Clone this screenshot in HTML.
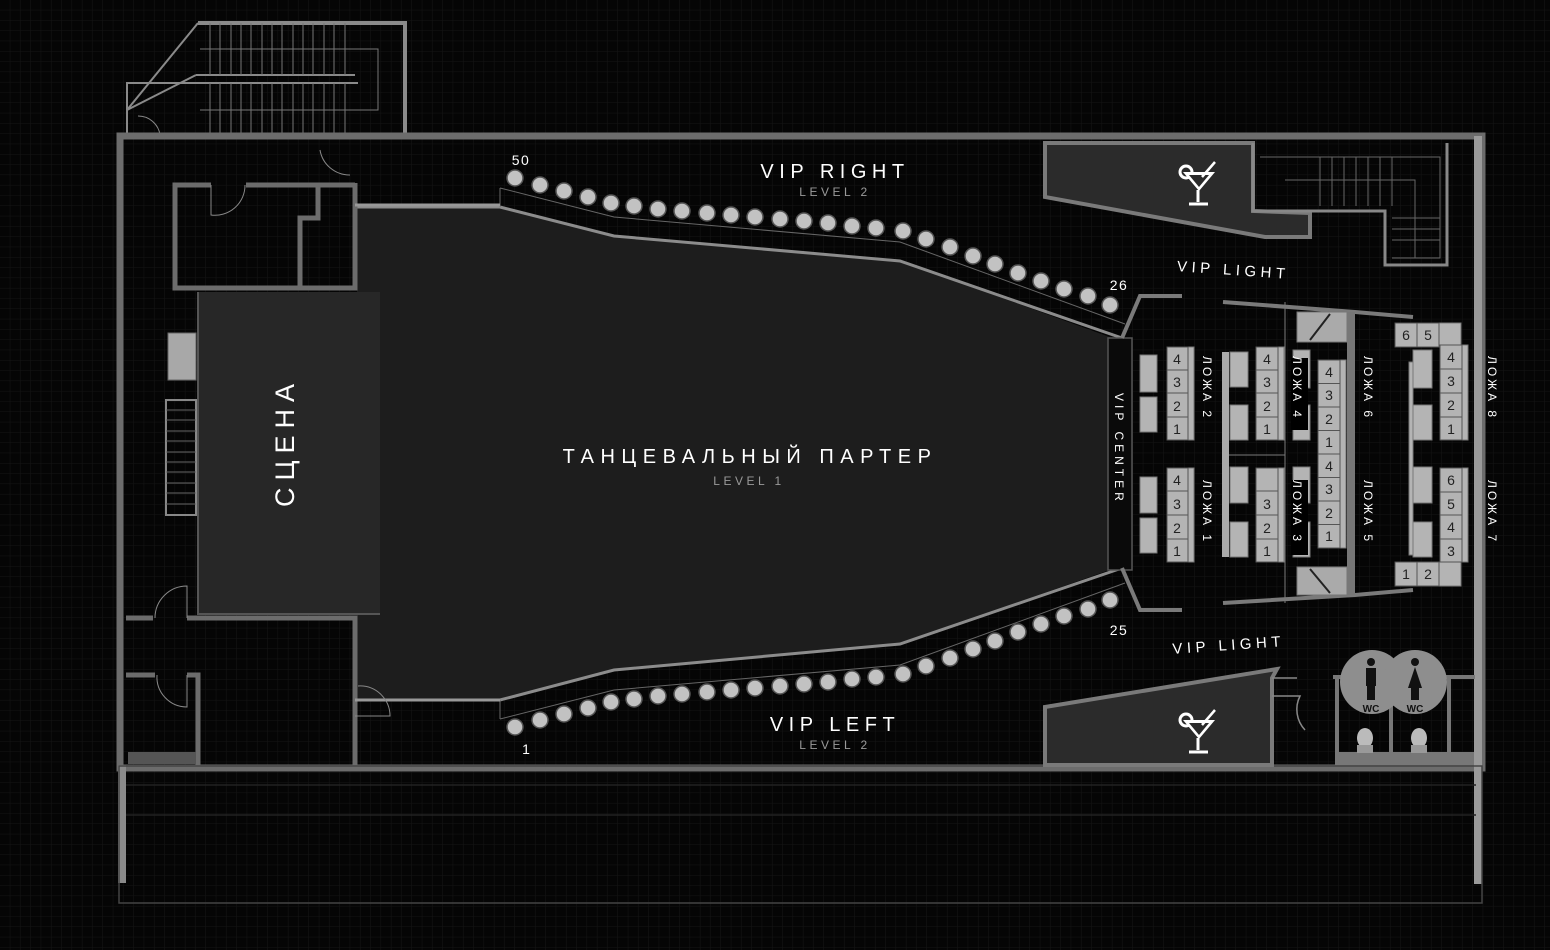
<!DOCTYPE html>
<html><head><meta charset="utf-8"><style>
html,body{margin:0;padding:0;background:#050505;}
svg{display:block}
text{font-family:"Liberation Sans","DejaVu Sans",sans-serif;fill:#fff}
</style></head><body>
<svg width="1550" height="950" viewBox="0 0 1550 950" xmlns="http://www.w3.org/2000/svg">
<defs>
<pattern id="g" width="10.3" height="10.3" patternUnits="userSpaceOnUse">
<path d="M10.3 0V10.3H0" fill="none" stroke="#151515" stroke-width="1"/>
</pattern>
<g id="cock">
<circle cx="-13" cy="-8" r="6" fill="none" stroke="#fff" stroke-width="3"/>
<path d="M-16 -8H16L0 11Z" fill="#fff"/>
<path d="M-10 -5H10L0 7Z" fill="#2a2a2a"/>
<path d="M-1 10V22M-10 24H9" stroke="#fff" stroke-width="3"/>
<path d="M3 -3L16 -18" stroke="#fff" stroke-width="2.5"/>
</g>
</defs>
<rect width="1550" height="950" fill="#050505"/>
<rect width="1550" height="950" fill="url(#g)"/>

<!-- top stairs -->
<g fill="none" stroke="#8a8a8a" stroke-width="2">
<path d="M198 23H405V135" stroke-width="4"/>
<path d="M127 135V83H358M196 75H355"/>
<path d="M127 110L198 23M127 110L196 75"/>
<g stroke-width="1" stroke="#777">
<path d="M210 23V75M220 23V75M231 23V75M241 23V75M251 23V75M262 23V75M272 23V75M282 23V75M293 23V75M303 23V75M313 23V75M324 23V75M334 23V75M345 23V75"/>
<path d="M210 83V135M220 83V135M231 83V135M241 83V135M251 83V135M262 83V135M272 83V135M282 83V135M293 83V135M303 83V135M313 83V135M324 83V135M334 83V135M345 83V135"/>
<path d="M200 49H378V110H200"/>
</g>
</g>
<path d="M138 116A22 22 0 0 1 160 135" fill="none" stroke="#888" stroke-width="1"/>

<!-- outer walls -->
<rect x="120" y="136" width="1362" height="632" fill="none" stroke="#6c6c6c" stroke-width="7"/>
<rect x="1474" y="136" width="8" height="748" fill="#9a9a9a"/>
<rect x="118" y="765" width="8" height="118" fill="#8a8a8a"/>
<rect x="119" y="766" width="1363" height="137" fill="none" stroke="#444" stroke-width="1.5"/>
<path d="M126 785H1476M126 815H1476" stroke="#222" stroke-width="1.5"/>

<!-- dance floor -->
<polygon points="357,207 500,207 614,236 900,261 1118,340 1118,567 900,644 614,670 500,700 357,700" fill="#1d1d1d"/>
<path d="M357 207H500L614 236L900 261L1122 338M357 700H500L614 670L900 644L1122 568" fill="none" stroke="#8c8c8c" stroke-width="3"/>
<path d="M500 188L614 217L900 242L1125 324M500 719L614 690L900 665L1125 583" fill="none" stroke="#666" stroke-width="1"/>
<path d="M500 188V207M500 700V719" stroke="#666"/>
<rect x="1108" y="338" width="24" height="232" fill="#0a0a0a" stroke="#555" stroke-width="1.5"/>
<path d="M1122 338L1140 296H1182M1122 568L1140 610H1182" fill="none" stroke="#7a7a7a" stroke-width="4"/>

<!-- stage -->
<rect x="198" y="292" width="182" height="322" fill="#272727"/>
<path d="M198 292V614H380" fill="none" stroke="#555" stroke-width="2"/>

<!-- left rooms -->
<g fill="none" stroke="#6c6c6c" stroke-width="5">
<path d="M211 185H175V288H355V183M246 185H355"/>
<path d="M318 185V218H300V288"/>
<path d="M126 618H153M187 618H355V765"/>
<path d="M126 675H155M187 675H198V765"/>
<path d="M355 618V716M355 745V765"/>
<path d="M355 205H500" stroke-width="3" stroke="#999"/>
<path d="M355 700H500" stroke-width="3" stroke="#999"/>
</g>
<g fill="none" stroke="#888" stroke-width="1">
<path d="M211 185V215A30 30 0 0 0 245 185"/>
<path d="M187 618V586A32 32 0 0 0 155 618"/>
<path d="M157 675A30 30 0 0 0 187 707V675"/>
<path d="M355 716H390A30 30 0 0 0 358 686"/>
<path d="M320 150A30 30 0 0 0 350 175"/>
</g>
<rect x="128" y="752" width="68" height="12" fill="#555"/>
<rect x="168" y="333" width="28" height="47" fill="#a8a8a8" stroke="#666"/>
<rect x="166" y="400" width="30" height="115" fill="none" stroke="#888" stroke-width="2"/>
<path d="M166 410H196M166 420H196M166 431H196M166 441H196M166 452H196M166 462H196M166 472H196M166 483H196M166 493H196M166 504H196" stroke="#666" stroke-width="1"/>

<!-- top bar -->
<polygon points="1045,143 1253,143 1253,211 1310,213 1310,237 1265,237 1045,197" fill="#2b2b2b" stroke="#7a7a7a" stroke-width="4"/>
<g fill="none" stroke="#888" stroke-width="3">
<path d="M1253 143V211H1385V265H1447V143"/>
</g>
<g fill="none" stroke="#666" stroke-width="1">
<path d="M1260 157H1440V258H1392M1285 180H1415V258M1320 157V206M1332 157V206M1344 157V206M1356 157V206M1368 157V206M1380 157V206M1392 157V206"/>
<path d="M1392 218H1440M1392 229H1440M1392 240H1440"/>
</g>
<use href="#cock" x="1199" y="180"/>

<!-- bottom bar -->
<polygon points="1045,707 1277,669 1272,678 1272,765 1045,765" fill="#2b2b2b" stroke="#7a7a7a" stroke-width="4"/>
<use href="#cock" x="1199" y="728"/>
<path d="M1272 678H1297M1272 696H1300A30 30 0 0 0 1305 730" fill="none" stroke="#888" stroke-width="1.5"/>
<!-- WC -->
<g fill="none" stroke="#777" stroke-width="4">
<path d="M1337 677V765M1391 700V755M1449 677V765M1333 677H1345M1445 677H1475"/>
</g>
<rect x="1337" y="752" width="137" height="13" fill="#777"/>
<circle cx="1372" cy="682" r="32" fill="#8e8e8e"/>
<circle cx="1415" cy="682" r="32" fill="#8e8e8e"/>
<g fill="#111">
<circle cx="1371" cy="662" r="4"/><rect x="1366" y="668" width="10" height="18"/><rect x="1367" y="686" width="8" height="14"/>
<circle cx="1415" cy="662" r="4"/><polygon points="1415,667 1408,688 1422,688"/><rect x="1411" y="688" width="8" height="12"/>
</g>
<text x="1371" y="712" font-size="10" font-weight="bold" text-anchor="middle" style="fill:#111">WC</text>
<text x="1415" y="712" font-size="10" font-weight="bold" text-anchor="middle" style="fill:#111">WC</text>
<ellipse cx="1365" cy="738" rx="8" ry="10" fill="#bbb"/><rect x="1357" y="745" width="16" height="8" fill="#999"/>
<ellipse cx="1419" cy="738" rx="8" ry="10" fill="#bbb"/><rect x="1411" y="745" width="16" height="8" fill="#999"/>

<!-- seats -->
<g fill="#c2c2c2" stroke="#555" stroke-width="1.5">
<circle cx="515" cy="178" r="8"/><circle cx="540" cy="185" r="8"/><circle cx="564" cy="191" r="8"/><circle cx="588" cy="197" r="8"/><circle cx="611" cy="203" r="8"/><circle cx="634" cy="206" r="8"/><circle cx="658" cy="209" r="8"/><circle cx="682" cy="211" r="8"/><circle cx="707" cy="213" r="8"/><circle cx="731" cy="215" r="8"/><circle cx="755" cy="217" r="8"/><circle cx="780" cy="219" r="8"/><circle cx="804" cy="221" r="8"/><circle cx="828" cy="223" r="8"/><circle cx="852" cy="226" r="8"/><circle cx="876" cy="228" r="8"/><circle cx="903" cy="231" r="8"/><circle cx="926" cy="239" r="8"/><circle cx="950" cy="247" r="8"/><circle cx="973" cy="256" r="8"/><circle cx="995" cy="264" r="8"/><circle cx="1018" cy="273" r="8"/><circle cx="1041" cy="281" r="8"/><circle cx="1064" cy="289" r="8"/><circle cx="1088" cy="296" r="8"/><circle cx="1110" cy="305" r="8"/>
<circle cx="515" cy="727" r="8"/><circle cx="540" cy="720" r="8"/><circle cx="564" cy="714" r="8"/><circle cx="588" cy="708" r="8"/><circle cx="611" cy="702" r="8"/><circle cx="634" cy="699" r="8"/><circle cx="658" cy="696" r="8"/><circle cx="682" cy="694" r="8"/><circle cx="707" cy="692" r="8"/><circle cx="731" cy="690" r="8"/><circle cx="755" cy="688" r="8"/><circle cx="780" cy="686" r="8"/><circle cx="804" cy="684" r="8"/><circle cx="828" cy="682" r="8"/><circle cx="852" cy="679" r="8"/><circle cx="876" cy="677" r="8"/><circle cx="903" cy="674" r="8"/><circle cx="926" cy="666" r="8"/><circle cx="950" cy="658" r="8"/><circle cx="973" cy="649" r="8"/><circle cx="995" cy="641" r="8"/><circle cx="1018" cy="632" r="8"/><circle cx="1041" cy="624" r="8"/><circle cx="1064" cy="616" r="8"/><circle cx="1088" cy="609" r="8"/><circle cx="1110" cy="600" r="8"/>
</g>

<!-- lodges -->
<g fill="none" stroke="#7a7a7a">
<path d="M1223 302L1355 312L1413 317M1223 603L1355 595L1413 590" stroke-width="4"/>
<path d="M1285 302V603M1222 455H1285" stroke-width="1"/>
</g>
<rect x="1347" y="312" width="8" height="283" fill="#777"/>
<rect x="1222" y="352" width="7" height="205" fill="#aaa"/>
<rect x="1297" y="312" width="50" height="30" fill="#aaa" stroke="#777"/>
<rect x="1297" y="567" width="50" height="28" fill="#aaa" stroke="#777"/>
<path d="M1310 340L1330 314M1310 569L1330 593" stroke="#222" stroke-width="2"/>
<g fill="#b4b4b4" stroke="#777" stroke-width="1">
<rect x="1140" y="355" width="17" height="37"/><rect x="1140" y="397" width="17" height="35"/><rect x="1140" y="477" width="17" height="36"/><rect x="1140" y="518" width="17" height="35"/>
<rect x="1230" y="352" width="18" height="35"/><rect x="1230" y="405" width="18" height="35"/><rect x="1230" y="467" width="18" height="36"/><rect x="1230" y="522" width="18" height="35"/>
<rect x="1293" y="350" width="17" height="38"/><rect x="1293" y="405" width="17" height="35"/><rect x="1293" y="467" width="17" height="36"/><rect x="1293" y="522" width="17" height="35"/>
<rect x="1413" y="350" width="19" height="38"/><rect x="1413" y="405" width="19" height="35"/><rect x="1413" y="467" width="19" height="36"/><rect x="1413" y="522" width="19" height="35"/>
<rect x="1409" y="362" width="4" height="193"/>
<rect x="1188" y="347" width="6" height="93"/><rect x="1188" y="468" width="6" height="94"/>
<rect x="1278" y="347" width="6" height="93"/><rect x="1278" y="468" width="6" height="94"/>
<rect x="1340" y="360" width="6" height="188"/>
<rect x="1462" y="345" width="6" height="95"/><rect x="1462" y="468" width="6" height="94"/>
<rect x="1439" y="323" width="22" height="24"/><rect x="1439" y="562" width="22" height="24"/>
</g>
<g fill="#b4b4b4" stroke="#555" stroke-width="1">
<rect x="1167" y="347" width="21" height="23"/><rect x="1167" y="370" width="21" height="23"/><rect x="1167" y="393" width="21" height="24"/><rect x="1167" y="417" width="21" height="23"/>
<rect x="1167" y="468" width="21" height="23"/><rect x="1167" y="491" width="21" height="24"/><rect x="1167" y="515" width="21" height="24"/><rect x="1167" y="539" width="21" height="23"/>
<rect x="1256" y="347" width="22" height="23"/><rect x="1256" y="370" width="22" height="23"/><rect x="1256" y="393" width="22" height="24"/><rect x="1256" y="417" width="22" height="23"/>
<rect x="1256" y="468" width="22" height="23"/><rect x="1256" y="491" width="22" height="24"/><rect x="1256" y="515" width="22" height="24"/><rect x="1256" y="539" width="22" height="23"/>
<rect x="1318" y="360" width="22" height="23.5"/><rect x="1318" y="383.5" width="22" height="23.5"/><rect x="1318" y="407" width="22" height="23.5"/><rect x="1318" y="430.5" width="22" height="23.5"/><rect x="1318" y="454" width="22" height="23.5"/><rect x="1318" y="477.5" width="22" height="23.5"/><rect x="1318" y="501" width="22" height="23.5"/><rect x="1318" y="524.5" width="22" height="23.5"/>
<rect x="1440" y="345" width="22" height="24"/><rect x="1440" y="369" width="22" height="24"/><rect x="1440" y="393" width="22" height="24"/><rect x="1440" y="417" width="22" height="23"/>
<rect x="1440" y="468" width="22" height="24"/><rect x="1440" y="492" width="22" height="23"/><rect x="1440" y="515" width="22" height="24"/><rect x="1440" y="539" width="22" height="23"/>
<rect x="1395" y="323" width="22" height="24"/><rect x="1417" y="323" width="22" height="24"/>
<rect x="1395" y="562" width="22" height="24"/><rect x="1417" y="562" width="22" height="24"/>
</g>
<g font-size="14" text-anchor="middle">
<text x="1177" y="364" style="fill:#222">4</text><text x="1177" y="387" style="fill:#222">3</text><text x="1177" y="411" style="fill:#222">2</text><text x="1177" y="434" style="fill:#222">1</text>
<text x="1177" y="485" style="fill:#222">4</text><text x="1177" y="509" style="fill:#222">3</text><text x="1177" y="533" style="fill:#222">2</text><text x="1177" y="556" style="fill:#222">1</text>
<text x="1267" y="364" style="fill:#222">4</text><text x="1267" y="387" style="fill:#222">3</text><text x="1267" y="411" style="fill:#222">2</text><text x="1267" y="434" style="fill:#222">1</text>
<text x="1267" y="509" style="fill:#222">3</text><text x="1267" y="533" style="fill:#222">2</text><text x="1267" y="556" style="fill:#222">1</text>
<text x="1329" y="377" style="fill:#222">4</text><text x="1329" y="400" style="fill:#222">3</text><text x="1329" y="424" style="fill:#222">2</text><text x="1329" y="447" style="fill:#222">1</text><text x="1329" y="471" style="fill:#222">4</text><text x="1329" y="494" style="fill:#222">3</text><text x="1329" y="518" style="fill:#222">2</text><text x="1329" y="541" style="fill:#222">1</text>
<text x="1451" y="362" style="fill:#222">4</text><text x="1451" y="386" style="fill:#222">3</text><text x="1451" y="410" style="fill:#222">2</text><text x="1451" y="434" style="fill:#222">1</text>
<text x="1451" y="485" style="fill:#222">6</text><text x="1451" y="509" style="fill:#222">5</text><text x="1451" y="532" style="fill:#222">4</text><text x="1451" y="556" style="fill:#222">3</text>
<text x="1406" y="340" style="fill:#222">6</text><text x="1428" y="340" style="fill:#222">5</text>
<text x="1406" y="579" style="fill:#222">1</text><text x="1428" y="579" style="fill:#222">2</text>
</g>
<rect x="1291" y="358" width="17" height="72" fill="#000"/>
<rect x="1291" y="480" width="17" height="75" fill="#000"/>
<g font-size="12" letter-spacing="3">
<text transform="translate(1203,356) rotate(90)">ЛОЖА 2</text>
<text transform="translate(1203,480) rotate(90)">ЛОЖА 1</text>
<text transform="translate(1293,356) rotate(90)">ЛОЖА 4</text>
<text transform="translate(1293,480) rotate(90)">ЛОЖА 3</text>
<text transform="translate(1364,356) rotate(90)">ЛОЖА 6</text>
<text transform="translate(1364,480) rotate(90)">ЛОЖА 5</text>
<text transform="translate(1488,356) rotate(90)">ЛОЖА 8</text>
<text transform="translate(1488,480) rotate(90)">ЛОЖА 7</text>
<text transform="translate(1115,393) rotate(90)" letter-spacing="4">VIP CENTER</text>
</g>

<!-- labels -->
<text x="835" y="178" font-size="20" text-anchor="middle" letter-spacing="5.5">VIP RIGHT</text>
<text x="835" y="196" font-size="12" text-anchor="middle" letter-spacing="3.5" style="fill:#9a9a9a">LEVEL 2</text>
<text x="835" y="731" font-size="20" text-anchor="middle" letter-spacing="5.5">VIP LEFT</text>
<text x="835" y="749" font-size="12" text-anchor="middle" letter-spacing="3.5" style="fill:#9a9a9a">LEVEL 2</text>
<text x="750" y="463" font-size="20" text-anchor="middle" letter-spacing="6.5">ТАНЦЕВАЛЬНЫЙ ПАРТЕР</text>
<text x="749" y="485" font-size="12" text-anchor="middle" letter-spacing="3.5" style="fill:#9a9a9a">LEVEL 1</text>
<text transform="translate(294,442) rotate(-90)" font-size="27" text-anchor="middle" letter-spacing="7">СЦЕНА</text>
<text x="521" y="165" font-size="14" text-anchor="middle" letter-spacing="1.5">50</text>
<text x="1119" y="290" font-size="14" text-anchor="middle" letter-spacing="1.5">26</text>
<text x="1119" y="635" font-size="14" text-anchor="middle" letter-spacing="1.5">25</text>
<text x="526" y="754" font-size="14" text-anchor="middle">1</text>
<text transform="translate(1233,275) rotate(4)" font-size="15" text-anchor="middle" letter-spacing="4.5">VIP LIGHT</text>
<text transform="translate(1229,650) rotate(-4)" font-size="15" text-anchor="middle" letter-spacing="4.5">VIP LIGHT</text>
</svg>
</body></html>
